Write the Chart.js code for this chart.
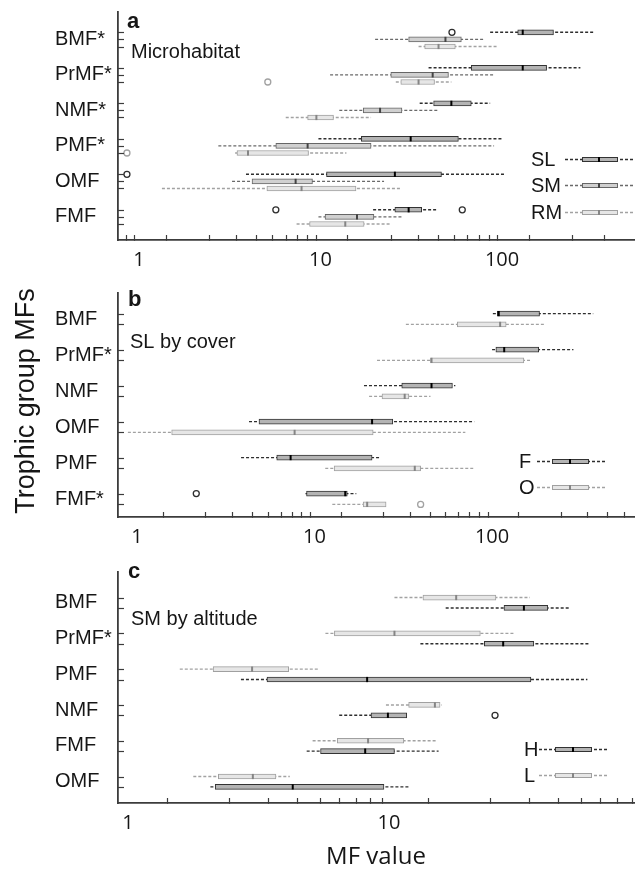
<!DOCTYPE html>
<html><head><meta charset="utf-8">
<script src="https://cdn.jsdelivr.net/npm/chart.js@4.4.1/dist/chart.umd.min.js"></script>
<style>
html,body{margin:0;padding:0;background:#fff;}
#wrap{position:relative;width:640px;height:869px;overflow:hidden;}
canvas{position:absolute;left:0;}
</style></head><body>
<div id="wrap">
<canvas id="ca" width="640" height="280" style="top:0px"></canvas>
<canvas id="cb" width="640" height="280" style="top:280px"></canvas>
<canvas id="cc" width="640" height="309" style="top:560px"></canvas>
</div>
<script>
// ---------------- DATA ----------------
// each box: [lower whisker, Q1, median, Q3, upper whisker]; outliers: [category index, value]
const catsA = ['BMF*', 'PrMF*', 'NMF*', 'PMF*', 'OMF', 'FMF'];
const aSL = [[86,122,130,192,318],[39.4,67.7,130,176,270],[35.2,42,52.6,67.7,86],[9.75,16.8,31.4,57.5,101],[3.89,10.8,25.7,46.4,104],[19.5,25.7,30.6,36.1,43.6]];
const aSM = [[20,30.6,48.8,59.7,79.7],[11.3,24.4,41.5,50.7,91.6],[12.7,17.2,21.3,28.1,44.1],[2.74,5.68,8.5,19,90.4],[3.26,4.2,7.3,9.04,22.4],[9.75,10.6,15.9,19.7,28.1]];
const aRM = [[34.7,37.5,44.7,55.3,94],[26,27.7,34.7,42.5,52.6],[6.44,8.5,9.5,11.8,19],[3.39,3.47,3.99,8.6,13.9],[1.34,5.07,7.87,15.7,28.1],[7.39,8.71,13.7,17.4,24.5]];
const aSLOut = [[0,53],[4,0.86],[5,5.68],[5,60.4]];
const aSMOut = [];
const aRMOut = [[1,5.13],[3,0.86]];

const catsB = ['BMF', 'PrMF*', 'NMF', 'OMF', 'PMF', 'FMF*'];
const bF = [[101,107,109,185,371],[100,105,117,183,287],[19,31,45.6,59.8,62.1],[4.28,4.87,21.1,27.6,79.3],[3.86,6.13,7.34,21.1,23.7],[8.9,9.02,14.9,15.3,17.2]];
const bO = [[32.7,63.7,111,120,200],[22.5,45,45.6,151,165],[20.3,24,32.2,34,45],[0.89,1.57,7.73,21.4,70.7],[11.5,12.9,36.7,39.6,78.3],[12.6,18.8,19.8,25.3,25.3]];
const bFOut = [[5,2.16]];
const bOOut = [[5,39.6]];

const catsC = ['BMF', 'PrMF*', 'PMF', 'NMF', 'FMF', 'OMF'];
const cL = [[10.5,13.5,18.1,25.7,34.7],[5.71,6.18,10.5,22.4,30.4],[1.58,2.12,2.99,4.13,5.42],[9.74,11.9,15,15.7,15.9],[5.1,6.34,8.32,11.4,15.2],[1.78,2.22,3.01,3.69,4.17]];
const cH = [[16.5,27.6,32.9,40.6,49.6],[13.2,23.2,27.4,35.9,58.6],[2.71,3.41,8.25,35,57.6],[6.45,8.54,9.91,11.7,11.7],[4.84,5.47,8.11,10.5,15.5],[2.07,2.16,4.28,9.57,12]];
const cLOut = [];
const cHOut = [[3,25.5]];

// tick marks and labels of the log x axes
const xTicksA = [0.9,1,2,3,4,5,6,7,8,9,10,20,30,40,50,60,70,80,90,100,200,300];
const xTicksB = [1,2,3,4,5,6,7,8,9,10,20,30,40,50,60,70,80,90,100,200,300,400,500];
const xTicksC = [1,2,3,4,5,6,7,8,9,10,20,30,40,50,60,70,80];
const xTickLabels = [1, 10, 100];

// ---------------- STYLES ----------------
const ST = {
  dark:  {line:'#2e2e2e', box:'#333333', fill:'#b4b4b4', med:'#000000'},
  mid:   {line:'#6a6a6a', box:'#666666', fill:'#d0d0d0', med:'#444444'},
  light: {line:'#a2a2a2', box:'#a0a0a0', fill:'#e6e6e6', med:'#858585'}
};
const TXT = '#161616';
const AX = '#3c3c3c';
Chart.defaults.font.family = "'Liberation Sans', Arial, sans-serif";

function seriesDatasets(stats, outs, off, st) {
  const whisk = [], boxes = [], meds = [], outl = [];
  stats.forEach((s, i) => {
    const y = i + off;
    whisk.push({x: s[0], y: y}, {x: s[4], y: y}, {x: null, y: null});
    boxes.push({y: y, x: [s[1], s[3]]});
    meds.push({x: s[2], y: y});
  });
  outs.forEach(o => outl.push({x: o[1], y: o[0] + off}));
  return [
    {type:'line', data: whisk, borderColor: st.line, borderWidth: 1.4, borderDash:[3,2],
     pointRadius: 0, fill: false, spanGaps: false, order: 3},
    {type:'bar', indexAxis:'y', data: boxes, backgroundColor: st.fill, borderColor: st.box,
     borderWidth: 1, borderSkipped: false, grouped: false, maxBarThickness: 5,
     barPercentage: 1, categoryPercentage: 1, order: 2},
    {type:'scatter', data: meds, pointStyle:'line', pointRotation: 90, pointRadius: 2.6,
     pointBorderWidth: 2, pointBorderColor: st.med, pointBackgroundColor: st.med, order: 1},
    {type:'scatter', data: outl, pointStyle:'circle', pointRadius: 3, pointBorderWidth: 1.3,
     pointBorderColor: st.line, pointBackgroundColor: '#ffffff', order: 1}
  ];
}

function glyph(ctx, y, g, st) {
  ctx.save();
  ctx.strokeStyle = st.line; ctx.lineWidth = 1.4; ctx.setLineDash([3,2]);
  ctx.beginPath(); ctx.moveTo(g.w0, y + 0.5); ctx.lineTo(g.w1, y + 0.5); ctx.stroke();
  ctx.setLineDash([]);
  ctx.fillStyle = st.fill; ctx.fillRect(g.b0, y - 2, g.b1 - g.b0, 5);
  ctx.strokeStyle = st.box; ctx.lineWidth = 1; ctx.strokeRect(g.b0 + 0.5, y - 1.5, g.b1 - g.b0 - 1, 4);
  ctx.strokeStyle = st.med; ctx.lineWidth = 2;
  ctx.beginPath(); ctx.moveTo(g.m, y - 2); ctx.lineTo(g.m, y + 3); ctx.stroke();
  ctx.restore();
}

const annot = {
  id: 'annot',
  afterDraw(chart, args, o) {
    const ctx = chart.ctx, ys = chart.scales.y, ca = chart.chartArea;
    ctx.save();
    ctx.strokeStyle = AX; ctx.lineWidth = 1.2;
    o.rows.forEach(r => {
      const py = Math.round(ys.getPixelForValue(r)) + 0.5;
      ctx.beginPath(); ctx.moveTo(ca.left, py); ctx.lineTo(ca.left + 6, py); ctx.stroke();
    });
    ctx.fillStyle = TXT; ctx.textAlign = 'left'; ctx.textBaseline = 'alphabetic';
    ctx.font = "bold 22px 'Liberation Sans', Arial, sans-serif";
    ctx.fillText(o.letter[0], o.letter[1], o.letter[2]);
    ctx.font = "20px 'Liberation Sans', Arial, sans-serif";
    ctx.fillText(o.sub[0], o.sub[1], o.sub[2]);
    o.legend.forEach(l => {
      ctx.fillStyle = TXT;
      ctx.fillText(l.text, o.legX, l.y + 7);
      glyph(ctx, l.y, o.glyph, l.st);
    });
    if (o.ytitle) {
      ctx.translate(o.ytitle[1], o.ytitle[2]);
      ctx.rotate(-Math.PI / 2);
      ctx.textAlign = 'center'; ctx.textBaseline = 'middle';
      ctx.font = "27px 'Liberation Sans', Arial, sans-serif";
      ctx.fillStyle = TXT;
      ctx.fillText(o.ytitle[0], 0, 0);
    }
    ctx.restore();
  }
};

function makeChart(id, cfg) {
  const datasets = [];
  const rows = [];
  cfg.series.forEach(s => {
    datasets.push(...seriesDatasets(s.stats, s.outs, s.off, s.st));
    s.stats.forEach((_, i) => rows.push(i + s.off));
  });
  const cats = cfg.cats;
  const scales = {
    x: {
      type: 'logarithmic', position: 'bottom', min: cfg.xmin, max: cfg.xmax,
      afterBuildTicks: s => { s.ticks = cfg.xticks.map(v => ({value: v})); },
      afterFit: s => { s.height = cfg.xh; },
      grid: {display: true, drawOnChartArea: false, drawTicks: true, tickLength: -5, tickColor: AX, tickWidth: 1.2},
      border: {display: true, color: AX, width: 1.8},
      ticks: {autoSkip: false, maxRotation: 0, minRotation: 0, padding: 13, color: TXT,
        font: {family: "'Open Sans', sans-serif", size: 20},
        callback: v => xTickLabels.includes(v) ? String(v) : ''}
    },
    y: {
      type: 'linear', position: 'left', reverse: true, min: cfg.ymin, max: cfg.ymax, offset: false,
      afterBuildTicks: s => { s.ticks = cats.map((c, i) => ({value: i})); },
      afterFit: s => { s.width = 63; },
      grid: {display: false, offset: false, drawTicks: false},
      border: {display: true, color: AX, width: 1.8},
      ticks: {autoSkip: false, crossAlign: 'far', padding: 0, color: TXT,
        font: {family: "'Liberation Sans', Arial, sans-serif", size: 20},
        callback: v => cats[Math.round(v)]}
    }
  };
  if (cfg.xtitle) {
    scales.x.title = {display: true, text: cfg.xtitle, color: TXT,
      font: {family: "'Open Sans', sans-serif", size: 24, lineHeight: 1}, padding: {top: 0, bottom: 0}};
  }
  return new Chart(document.getElementById(id), {
    type: 'bar',
    data: {datasets},
    options: {
      responsive: false, animation: false, devicePixelRatio: 1, events: [],
      layout: {padding: {left: 55, right: 2, top: cfg.top, bottom: 0}},
      scales,
      plugins: {
        legend: {display: false}, tooltip: {enabled: false},
        annot: {rows, letter: cfg.letter, sub: cfg.sub, legend: cfg.legend, legX: cfg.legX,
          glyph: cfg.glyph, ytitle: cfg.ytitle}
      }
    },
    plugins: [annot]
  });
}

makeChart('ca', {
  cats: catsA, top: 12, xh: 40, xmin: 0.7677, xmax: 533, ymin: -0.772, ymax: 5.651, xticks: xTicksA,
  series: [
    {stats: aSL, outs: aSLOut, off: -0.2, st: ST.dark},
    {stats: aSM, outs: aSMOut, off: 0, st: ST.mid},
    {stats: aRM, outs: aRMOut, off: 0.2, st: ST.light}
  ],
  letter: ['a', 127, 28], sub: ['Microhabitat', 131, 58],
  legX: 531, glyph: {w0: 565, w1: 633, b0: 582, b1: 618, m: 599},
  legend: [{text: 'SL', y: 159, st: ST.dark}, {text: 'SM', y: 185, st: ST.mid}, {text: 'RM', y: 212, st: ST.light}]
});

makeChart('cb', {
  cats: catsB, top: 13, xh: 43, xmin: 0.783, xmax: 629.5, ymin: -0.722, ymax: 5.5, xticks: xTicksB,
  series: [
    {stats: bF, outs: bFOut, off: -0.15, st: ST.dark},
    {stats: bO, outs: bOOut, off: 0.15, st: ST.light}
  ],
  letter: ['b', 128, 26], sub: ['SL by cover', 130, 68],
  legX: 519, glyph: {w0: 537, w1: 605, b0: 552, b1: 589, m: 570},
  legend: [{text: 'F', y: 181, st: ST.dark}, {text: 'O', y: 207, st: ST.light}],
  ytitle: ['Trophic group MFs', 27, 121]
});

makeChart('cc', {
  cats: catsC, top: 10, xh: 66, xmin: 0.916, xmax: 86.9, ymin: -0.859, ymax: 5.595, xticks: xTicksC,
  xtitle: 'MF value',
  series: [
    {stats: cL, outs: cLOut, off: -0.145, st: ST.light},
    {stats: cH, outs: cHOut, off: 0.145, st: ST.dark}
  ],
  letter: ['c', 128, 18], sub: ['SM by altitude', 131, 65],
  legX: 524, glyph: {w0: 539, w1: 607, b0: 555, b1: 592, m: 573},
  legend: [{text: 'H', y: 189, st: ST.dark}, {text: 'L', y: 215, st: ST.light}]
});
</script>
</body></html>
